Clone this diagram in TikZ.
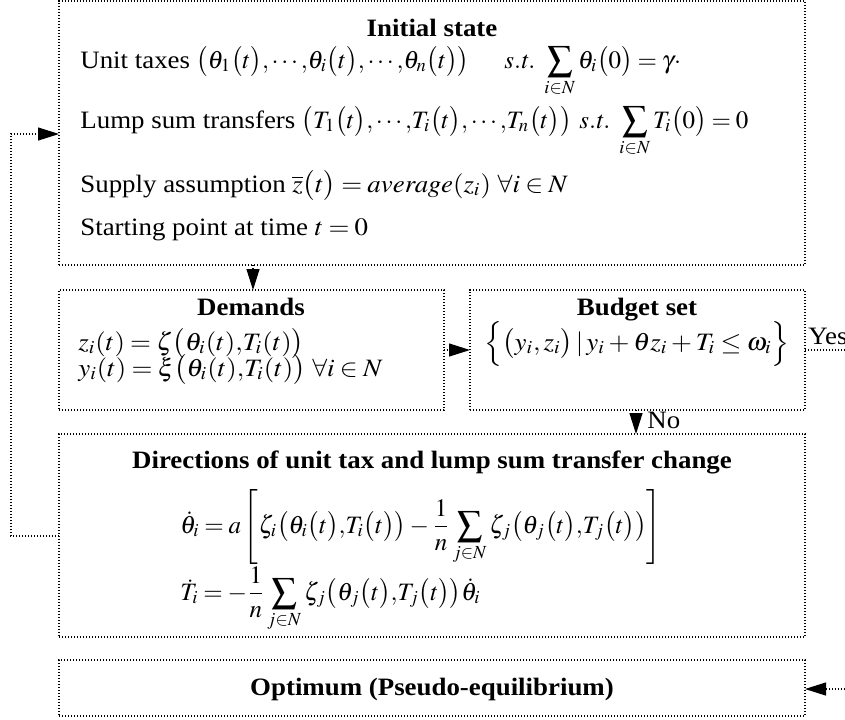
\documentclass[tikz,border=0pt]{standalone}
\usepackage{mathptmx}
\usepackage[no-math]{fontspec}
\setmainfont{Liberation Serif}
\usepackage{graphicx}
\usetikzlibrary{arrows.meta}
\thinmuskip=2mu
\medmuskip=2.5mu plus 1mu
\thickmuskip=3.5mu plus 2mu
\newcommand{\hs}[1]{\scalebox{1.075}[1]{#1}}
\tikzset{
  box/.style={draw, dash pattern=on 0.6pt off 0.9pt, line width=0.6pt, inner sep=0pt, outer sep=0pt, anchor=north west},
  conn/.style={dash pattern=on 0.6pt off 0.9pt, line width=0.6pt},
  arr/.style={conn, -{Triangle[length=10.5pt,width=6.5pt]}},
  txt/.style={inner sep=0pt, anchor=base west, font=\fontsize{12.5pt}{15pt}\selectfont},
  ttl/.style={inner sep=0pt, anchor=base, font=\fontsize{12.5pt}{15pt}\selectfont\bfseries},
}
\begin{document}
\begin{tikzpicture}[x=0.5pt,y=-0.5pt]
\useasboundingbox (0,0) rectangle (845,719);
% boxes
\node[box, minimum width=373pt, minimum height=132pt] (init) at (59,1) {};
\node[box, minimum width=192.5pt, minimum height=60pt] (dem) at (59,290) {};
\node[box, minimum width=167.5pt, minimum height=60pt] (bud) at (470,290) {};
\node[box, minimum width=373pt, minimum height=101.5pt] (dir) at (59,434) {};
\node[box, minimum width=373pt, minimum height=28pt] (opt) at (59,660) {};
% initial state texts
\node[ttl] (t1) at (432,36) {\hs{Initial state}};
\node[txt] (l1) at (80,68) {\hs{Unit taxes} $\bigl(\theta_1\bigl(t\bigr){,}\cdots{,}\theta_i\bigl(t\bigr){,}\cdots{,}\theta_n\bigl(t\bigr)\bigr)$};
\node[txt] (l1b) at (504,68) {$\mathit{s.t.}\ \displaystyle\sum_{i\in N}\theta_i\bigl(0\bigr)=\gamma\cdot$};
\node[txt] (l2) at (80,128) {\hs{Lump sum transfers} $\bigl(T_1\bigl(t\bigr){,}\cdots{,}T_i\bigl(t\bigr){,}\cdots{,}T_n\bigl(t\bigr)\bigr)$};
\node[txt] (l2b) at (579,128) {$\mathit{s.t.}\ \displaystyle\sum_{i\in N}T_i\bigl(0\bigr)=0$};
\node[txt] (l3) at (80,192) {\hs{Supply assumption $\overline{z}\bigl(t\bigr)=\mathit{average}(z_i)\ \forall i\in N$}};
\node[txt] (l4) at (80,235) {\hs{Starting point at time $t=0$}};
% demands
\node[ttl] (t2) at (251,315) {\hs{Demands}};
\node[txt] (d1) at (78,350) {\hs{$z_i(t)=\zeta\bigl(\theta_i(t){,}T_i(t)\bigr)$}};
\node[txt] (d2) at (78,376) {\hs{$y_i(t)=\xi\bigl(\theta_i(t){,}T_i(t)\bigr)\ \forall i\in N$}};
% budget
\node[ttl] (t3) at (637,315) {\hs{Budget set}};
\node[txt, anchor=base] (b1) at (637,350) {\hs{$\Bigl\{\bigl(y_i{,}\,z_i\bigr)\,|\,y_i+\theta z_i+T_i\le\omega_i\Bigr\}$}};
% directions
\node[ttl] (t4) at (432,468) {\hs{Directions of unit tax and lump sum transfer change}};
\node[txt] (e1) at (180,533) {$\displaystyle\dot{\theta}_i=a\left[\zeta_i\bigl(\theta_i\bigl(t\bigr){,}T_i\bigl(t\bigr)\bigr)-\frac{1}{n}\sum_{j\in N}\zeta_j\bigl(\theta_j\bigl(t\bigr){,}T_j\bigl(t\bigr)\bigr)\right]$};
\node[txt] (e2) at (180,600) {$\displaystyle\dot{T}_i=-\frac{1}{n}\sum_{j\in N}\zeta_j\bigl(\theta_j\bigl(t\bigr){,}T_j\bigl(t\bigr)\bigr)\dot{\theta}_i$};
% optimum
\node[ttl] (t5) at (432,695) {\hs{Optimum (Pseudo-equilibrium)}};
% connectors
\coordinate (xa) at (253,0);
\coordinate (xb) at (636,0);
\coordinate (yloop) at (0,536);
\coordinate (yin) at (0,134);
\coordinate (lc1) at (11,536);
\coordinate (lc2) at (11,134);
\coordinate (yesend) at (845,350);
\coordinate (optstart) at (845,689);
\draw[arr] (init.south -| xa) -- (dem.north -| xa);
\draw[arr] (dem.east) -- (bud.west);
\draw[arr] (bud.south -| xb) -- (dir.north -| xb);
\node[txt] (no) at (647,428) {\hs{No}};
\draw[conn] (bud.east |- yesend) -- (yesend);
\node[txt] (yes) at (808,344) {\hs{Yes}};
\draw[arr] (dir.west |- yloop) -- (lc1) -- (lc2) -- (init.west |- yin);
\draw[arr] (optstart) -- (opt.east |- optstart);
\end{tikzpicture}
\end{document}
